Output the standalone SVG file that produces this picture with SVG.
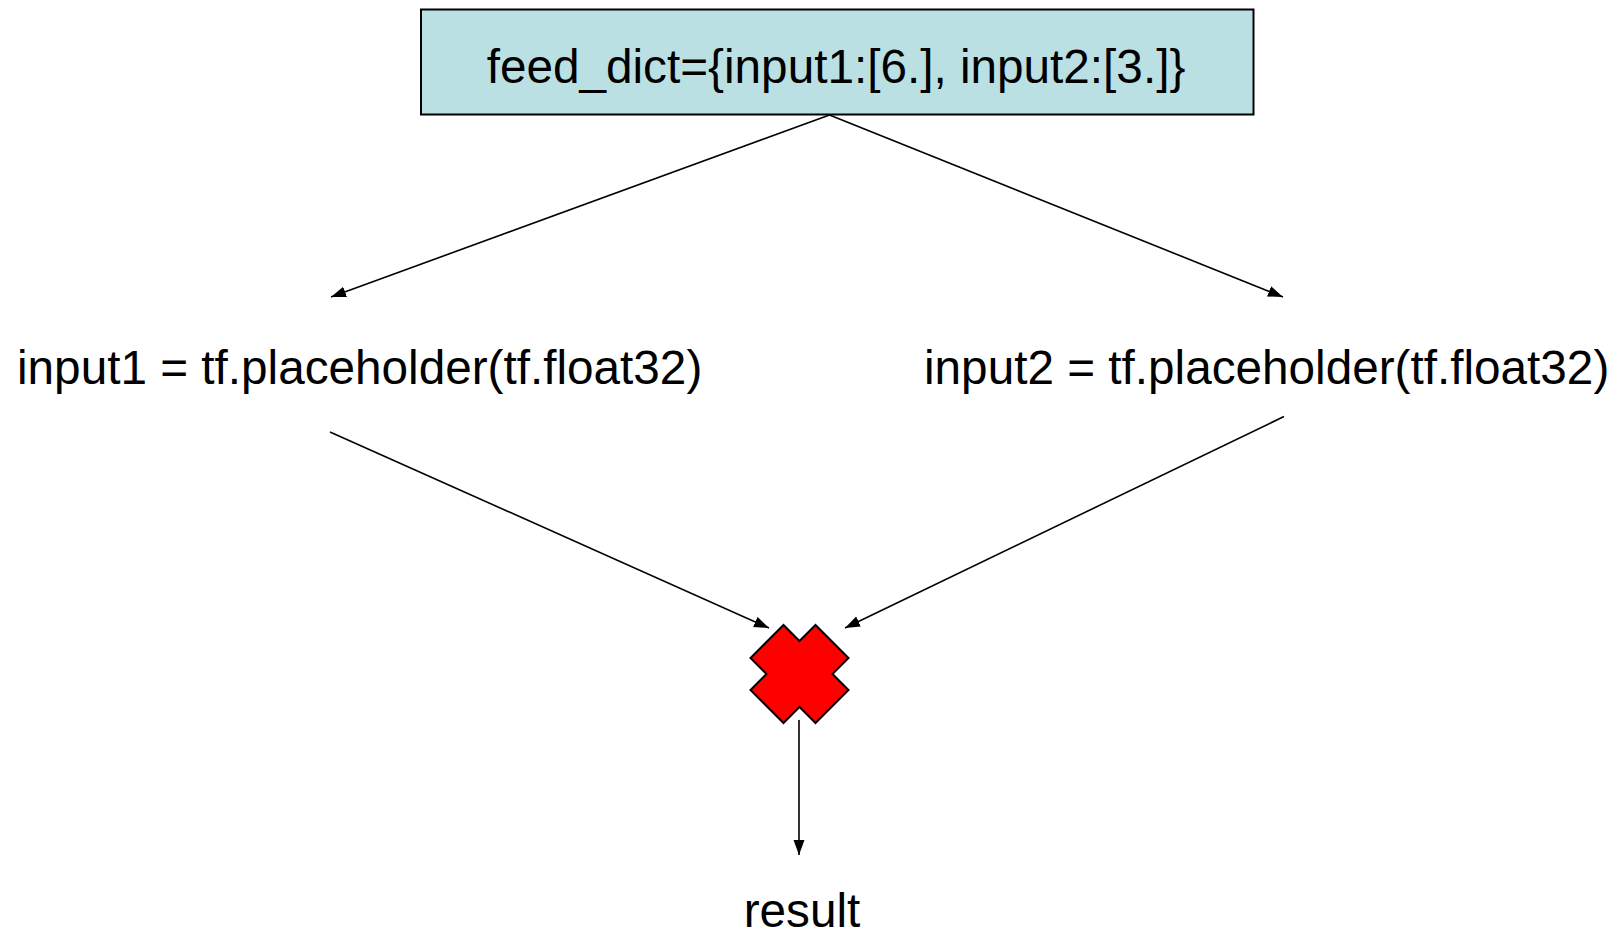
<svg xmlns="http://www.w3.org/2000/svg" width="1620" height="935" viewBox="0 0 1620 935">
  <style>
    .label { font-family: "Liberation Sans", Arial, sans-serif; font-size: 47.7px; fill: #000; }
    .edge { stroke: #000; stroke-width: 1.6; fill: none; marker-end: url(#arrow); }
  </style>
  <defs>
    <marker id="arrow" markerUnits="userSpaceOnUse" markerWidth="16" markerHeight="12" refX="15" refY="5.5" orient="auto">
      <path d="M0,0 L15,5.5 L0,11 z" fill="#000"/>
    </marker>
  </defs>
  <rect width="1620" height="935" fill="#fff"/>

  <g id="connectors">
    <line class="edge" x1="829.5" y1="115" x2="331" y2="297"/>
    <line class="edge" x1="829.5" y1="115" x2="1283" y2="297"/>
    <line class="edge" x1="330" y1="432" x2="769" y2="628"/>
    <line class="edge" x1="1284" y1="416.5" x2="845" y2="628"/>
    <line class="edge" x1="799" y1="720" x2="799" y2="855"/>
  </g>

  <g id="feed_dict">
    <rect x="421" y="9.5" width="832.5" height="105" fill="#bbe0e3" stroke="#000" stroke-width="2"/>
    <text class="label" x="836" y="82.5" text-anchor="middle">feed_dict={input1:[6.], input2:[3.]}</text>
  </g>

  <g id="input1">
    <text class="label" x="17" y="384">input1 = tf.placeholder(tf.float32)</text>
  </g>

  <g id="input2">
    <text class="label" x="924" y="384">input2 = tf.placeholder(tf.float32)</text>
  </g>

  <g id="multiply">
    <polygon points="799.5,641 815.5,625 848.5,658 832.5,674 848.5,690 815.5,723 799.5,707 783.5,723 750.5,690 766.5,674 750.5,658 783.5,625" fill="#ff0000" stroke="#000" stroke-width="2" stroke-linejoin="miter"/>
  </g>

  <g id="result">
    <text class="label" x="802" y="927" text-anchor="middle">result</text>
  </g>
</svg>
